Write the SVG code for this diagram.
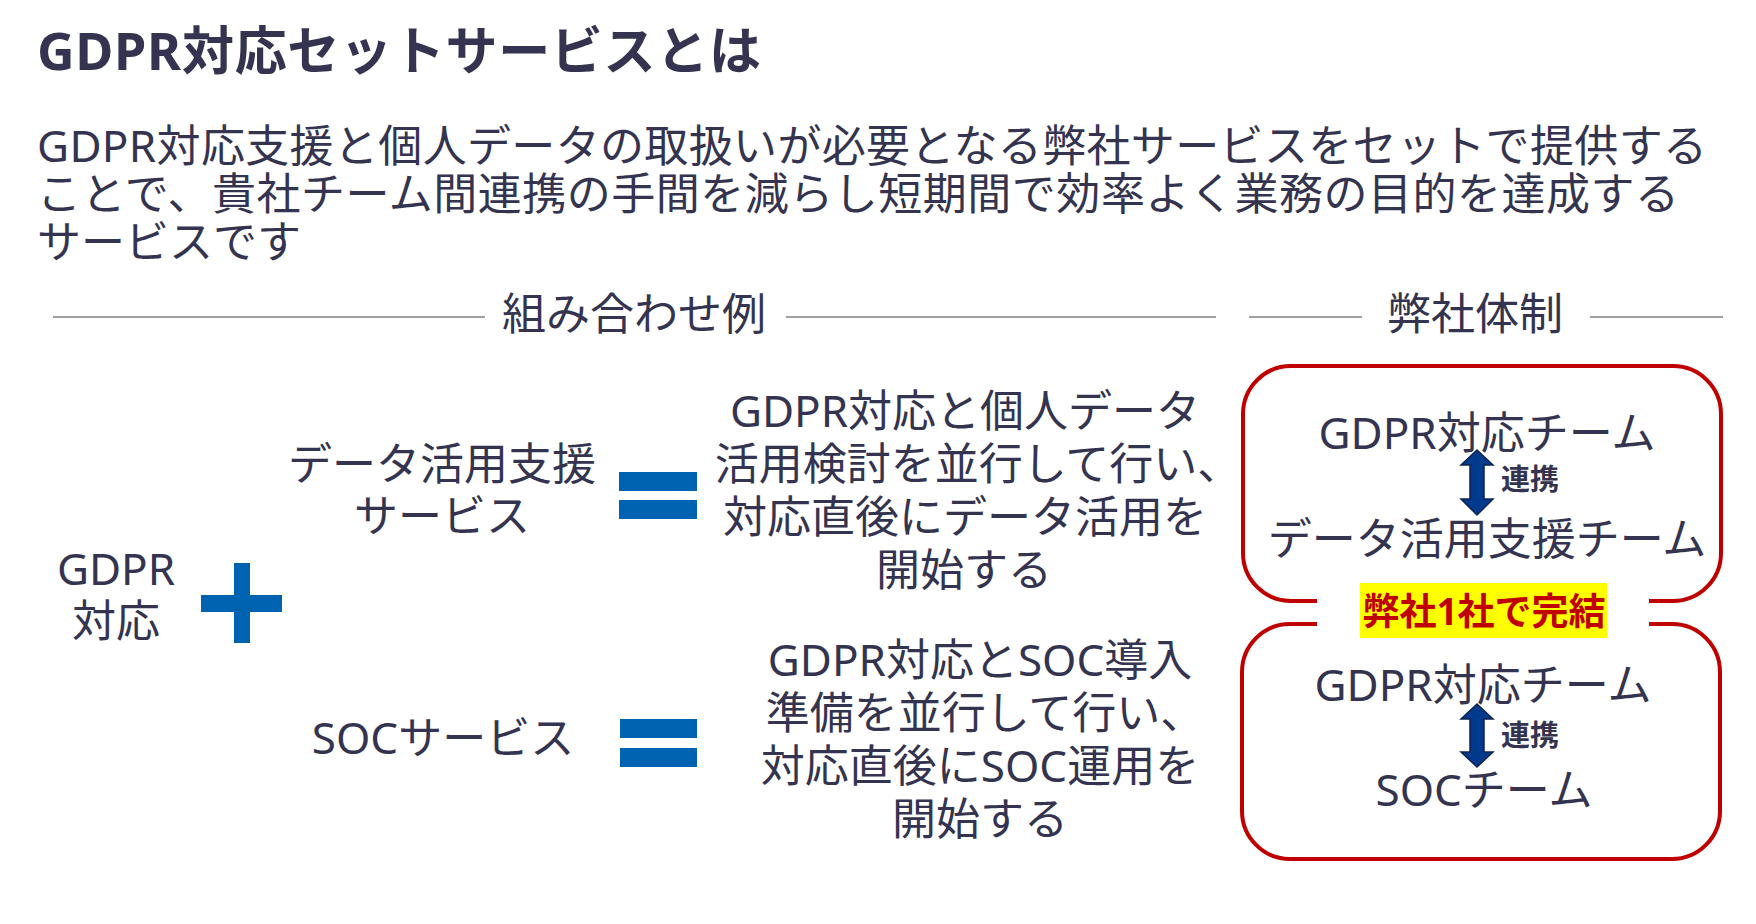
<svg xmlns="http://www.w3.org/2000/svg" width="1756" height="924" viewBox="0 0 1756 924">
  <style>
    text { font-family: "Noto Sans", "Noto Sans CJK JP", sans-serif; fill: #343450; }
    .title { font-size: 52px; font-weight: 700; }
    .body { font-size: 44px; }
    .mid { text-anchor: middle; }
    .blue { fill: #0063B1; }
    .rule { stroke: #808080; stroke-width: 1.5; fill: none; }
    .frame { stroke: #C00000; stroke-width: 4; fill: none; }
    .arrow { fill: #003A8C; stroke: #0D2350; stroke-width: 1.5; }
    .link { font-size: 29px; font-weight: 700; }
    .badge { font-size: 37px; font-weight: 700; fill: #C00000; text-anchor: middle; }
  </style>
  <rect x="0" y="0" width="1756" height="924" fill="#FFFFFF"/>

  <g id="title">
    <text class="title" x="37" y="70" textLength="724" lengthAdjust="spacing">GDPR対応セットサービスとは</text>
  </g>

  <g id="intro">
    <text class="body" x="37" y="162" textLength="1670" lengthAdjust="spacing">GDPR対応支援と個人データの取扱いが必要となる弊社サービスをセットで提供する</text>
    <text class="body" x="37" y="210" textLength="1642" lengthAdjust="spacing">ことで、貴社チーム間連携の手間を減らし短期間で効率よく業務の目的を達成する</text>
    <text class="body" x="37" y="258">サービスです</text>
  </g>

  <g id="section-headers">
    <line class="rule" x1="53" y1="317" x2="485" y2="317"/>
    <line class="rule" x1="786" y1="317" x2="1216" y2="317"/>
    <text class="body mid" x="634" y="330">組み合わせ例</text>
    <line class="rule" x1="1249" y1="317" x2="1362" y2="317"/>
    <line class="rule" x1="1590" y1="317" x2="1723" y2="317"/>
    <text class="body mid" x="1475" y="330">弊社体制</text>
  </g>

  <g id="node-gdpr">
    <text class="body mid" x="116" y="585">GDPR</text>
    <text class="body mid" x="116" y="637">対応</text>
  </g>

  <g id="plus">
    <rect class="blue" x="201" y="595" width="81" height="17"/>
    <rect class="blue" x="234" y="563" width="16" height="80"/>
  </g>

  <g id="node-data-service">
    <text class="body mid" x="442" y="480">データ活用支援</text>
    <text class="body mid" x="442" y="532">サービス</text>
  </g>

  <g id="equals-1">
    <rect class="blue" x="619" y="472" width="78" height="19"/>
    <rect class="blue" x="619" y="500" width="78" height="19"/>
  </g>

  <g id="result-1">
    <text class="body mid" x="965" y="427">GDPR対応と個人データ</text>
    <text class="body mid" x="978" y="480">活用検討を並行して行い、</text>
    <text class="body mid" x="965" y="533">対応直後にデータ活用を</text>
    <text class="body mid" x="964" y="586">開始する</text>
  </g>

  <g id="node-soc-service">
    <text class="body mid" x="443" y="754">SOCサービス</text>
  </g>

  <g id="equals-2">
    <rect class="blue" x="620" y="719" width="77" height="19"/>
    <rect class="blue" x="620" y="748" width="77" height="19"/>
  </g>

  <g id="result-2">
    <text class="body mid" x="980" y="676">GDPR対応とSOC導入</text>
    <text class="body mid" x="985" y="729">準備を並行して行い、</text>
    <text class="body mid" x="980" y="782">対応直後にSOC運用を</text>
    <text class="body mid" x="980" y="835">開始する</text>
  </g>

  <g id="team-box-1">
    <path class="frame" d="M1317,601 L1291,601 A48,48 0 0 1 1243,553 L1243,414 A48,48 0 0 1 1291,366 L1673,366 A48,48 0 0 1 1721,414 L1721,553 A48,48 0 0 1 1673,601 L1649,601"/>
    <text class="body mid" x="1487" y="449">GDPR対応チーム</text>
    <text class="body mid" x="1487" y="555">データ活用支援チーム</text>
  </g>

  <g id="badge">
    <rect x="1360" y="583" width="247" height="55" fill="#FFFF00"/>
    <text class="badge" x="1484" y="625">弊社1社で完結</text>
  </g>

  <g id="team-box-2">
    <path class="frame" d="M1317,624 L1290,624 A48,48 0 0 0 1242,672 L1242,811 A48,48 0 0 0 1290,859 L1672,859 A48,48 0 0 0 1720,811 L1720,672 A48,48 0 0 0 1672,624 L1649,624"/>
    <text class="body mid" x="1483" y="701">GDPR対応チーム</text>
    <text class="body mid" x="1484" y="806">SOCチーム</text>
  </g>

  <g id="connectors">
    <polygon class="arrow" points="1477,450 1493,465 1484,465 1484,499 1493,499 1477,515 1461,499 1470,499 1470,465 1461,465"/>
    <text class="link" x="1501" y="490">連携</text>
    <polygon class="arrow" points="1477,704 1493,719 1484,719 1484,752 1493,752 1477,767 1461,752 1470,752 1470,719 1461,719"/>
    <text class="link" x="1501" y="746">連携</text>
  </g>
</svg>
